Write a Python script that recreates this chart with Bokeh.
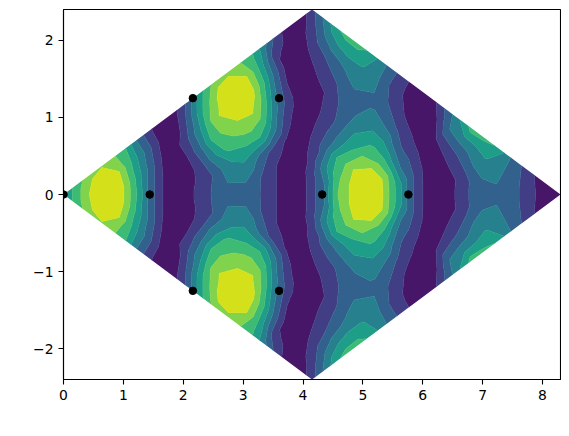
from bokeh.embed import file_html
from bokeh.resources import INLINE
from bokeh.plotting import figure
from bokeh.models import FixedTicker, Label
from bokeh.palettes import Viridis256
import numpy as np

# field values, one list per row of constant |y| (y >= 0)
z_row00 = [4.0,6.9,8.6,4.8,1.0,.7,2.1,2.85,1.85,.4,1.6,5.9,8.8,6.4,2.2,.2,1.5,2.8,2.4,1.0,.3]
z_row01 = [5.4,8.0,6.7,2.5,.3,1.3,2.8,2.7,1.1,.3,3.0,7.0,8.4,4.4,.9,.5,2.3,2.95,1.8,.6]
z_row02 = [6.5,8.0,4.5,1.0,.5,2.0,3.6,1.9,.4,1.6,5.6,8.2,6.2,2.2,.3,1.4,3.3,2.5,.9]
z_row03 = [6.9,5.9,2.5,.4,1.4,3.4,3.5,1.1,.4,3.6,6.4,6.7,3.1,.8,1.0,3.0,3.4,1.9]
z_row04 = [6.2,3.9,.8,1.0,3.5,4.5,2.4,.5,1.3,5.0,6.1,4.6,1.7,.3,2.2,4.1,3.0]
z_row05 = [5.0,2.1,.5,2.8,5.2,4.7,1.6,.5,2.5,4.7,5.1,2.2,.4,1.7,3.7,4.9]
z_row06 = [2.7,.4,1.9,5.3,5.8,4.7,.85,1.1,3.1,4.8,3.6,1.1,1.0,3.4,5.3]
z_row07 = [1.1,.4,3.9,6.4,6.2,3.2,.3,1.7,3.4,3.9,1.8,.3,2.9,5.6]
z_row08 = [.2,2.2,6.3,7.0,5.7,1.3,.7,2.1,3.4,2.6,.6,.9,4.1]
z_row09 = [.8,4.6,7.6,7.4,3.4,.4,1.2,2.6,3.1,1.3,.3,2.5]
z_row10 = [2.3,6.4,8.5,5.8,1.6,.4,1.9,2.8,2.1,.5,1.0]
z_row11 = [4.6,8.0,7.7,3.2,.3,1.0,2.6,3.0,1.2,.4]
z_row12 = [6.2,8.2,5.4,1.0,.5,2.0,3.6,2.2,.8]
z_row13 = [6.6,6.6,2.6,.4,1.5,3.2,3.6,1.8]
z_row14 = [6.2,4.2,.4,.9,2.5,4.1,3.0]
z_row15 = [5.4,1.4,.3,2.0,4.2,4.4]
z_row16 = [3.6,.6,1.3,3.8,5.4]
z_row17 = [1.8,.5,2.9,5.5]
z_row18 = [.4,1.5,4.8]
z_row19 = [.3,3.2]
z_row20 = [1.6]

atoms_x = [0.0, 1.44, 2.16, 3.60, 4.32, 5.76, 2.16, 3.60]
atoms_y = [0.0, 0.0, 1.25, 1.25, 0.0, 0.0, -1.25, -1.25]

x_max = 8.3
y_max = 2.4
levels = [0, 1, 2, 3, 4, 5, 6, 7, 9]
x_ticks = [0, 1, 2, 3, 4, 5, 6, 7, 8]
y_ticks = [-2, -1, 0, 1, 2]

rows = [z_row00, z_row01, z_row02, z_row03, z_row04, z_row05, z_row06, z_row07,
        z_row08, z_row09, z_row10, z_row11, z_row12, z_row13, z_row14, z_row15,
        z_row16, z_row17, z_row18, z_row19, z_row20]
n = len(rows)
ii, jj = np.meshgrid(np.arange(n), np.arange(n), indexing="ij")
X = (ii + jj) * x_max / (2 * (n - 1))
Y = (ii - jj) * y_max / (n - 1)
Z = np.array([[rows[abs(i - j)][min(i, j)] for j in range(n)] for i in range(n)], dtype=float)

band_fracs = [(k + 0.5) / 8 for k in range(8)]
colors = [Viridis256[int(f * 255)] for f in band_fracs]

p = figure(width=561, height=428, x_range=(0, x_max), y_range=(-y_max, y_max),
           output_backend="svg", toolbar_location=None,
           min_border_left=63, min_border_right=1, min_border_top=9, min_border_bottom=49)
p.contour(X, Y, Z, levels, fill_color=colors,
          line_color=colors + [colors[-1]], line_width=0.7)
p.scatter(atoms_x, atoms_y, size=7.5, color="black", line_color="black")

p.grid.visible = False
p.outline_line_color = "black"
p.outline_line_width = 1.1
p.xaxis.ticker = FixedTicker(ticks=x_ticks)
p.yaxis.ticker = FixedTicker(ticks=y_ticks)
p.yaxis.major_label_overrides = {-2: "\u22122", -1: "\u22121", 0: "0", 1: "1", 2: "2"}
for ax in (p.xaxis, p.yaxis):
    ax.axis_line_color = "black"
    ax.axis_line_width = 1.1
    ax.major_tick_line_color = "black"
    ax.major_tick_line_width = 1.1
    ax.major_tick_in = 0
    ax.major_tick_out = 5
    ax.minor_tick_line_color = None
    ax.major_label_text_font = "DejaVu Sans"
    ax.major_label_text_font_size = "13.9px"
    ax.major_label_text_color = "black"
    ax.major_label_standoff = 5
p.yaxis.major_label_orientation = "horizontal"

def caption(sx, sy, text, style, angle=0.0):
    p.add_layout(Label(x=sx, y=sy, x_units="screen", y_units="screen", text=text,
                       text_font="DejaVu Sans", text_font_size="13.9px", text_font_style=style,
                       text_color="black", angle=angle, angle_units="deg",
                       text_baseline="alphabetic", text_align="left"))

caption(220, -43, "x", "italic")
caption(232, -43, "[Ang]", "normal")
caption(-41, 157, "y", "italic", 90.0)
caption(-41, 169, "[Ang]", "normal", 90.0)

open("out.html", "w").write(file_html(p, INLINE))
